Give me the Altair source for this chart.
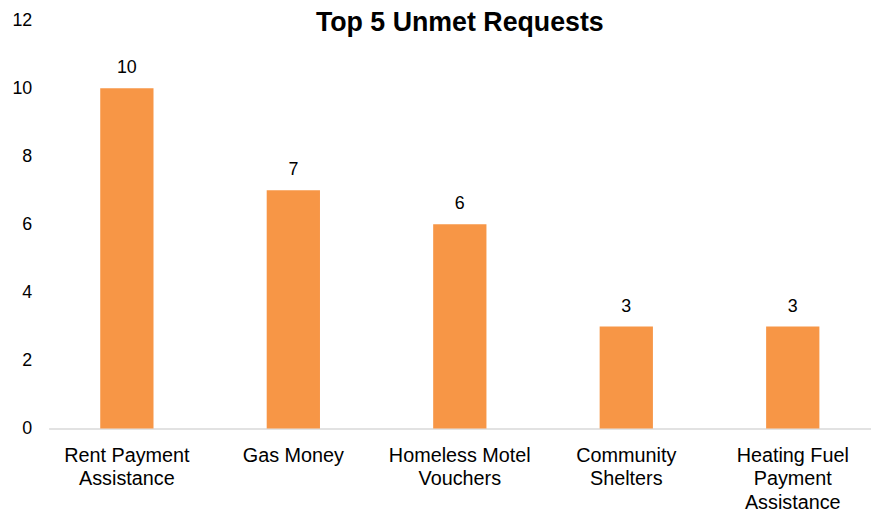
import altair as alt
import pandas as pd

categories = ["Rent Payment|Assistance", "Gas Money", "Homeless Motel|Vouchers",
              "Community|Shelters", "Heating Fuel|Payment|Assistance"]
values = [10, 7, 6, 3, 3]

df = pd.DataFrame({"cat": categories, "val": values})
FONT = "Liberation Sans, Arial, sans-serif"

base = alt.Chart(df).encode(
    x=alt.X("cat:N", sort=None, title=None,
            scale=alt.Scale(paddingInner=0.68, paddingOuter=0.31),
            axis=alt.Axis(labelAngle=0, labelExpr="split(datum.value, '|')",
                          labelFont=FONT, labelFontSize=20, labelColor="#000000",
                          labelLineHeight=24, labelPadding=17, ticks=False,
                          domainColor="#D9D9D9", domainWidth=1.5, labelBaseline="top")),
    y=alt.Y("val:Q", title=None,
            scale=alt.Scale(domain=[0, 12], nice=False),
            axis=alt.Axis(values=[0, 2, 4, 6, 8, 10, 12], grid=False, domain=False, ticks=False,
                          labelFont=FONT, labelFontSize=18, labelColor="#000000",
                          labelPadding=17)),
)

bars = base.mark_bar(color="#F79646")
labels = base.mark_text(dy=-11, baseline="bottom", font=FONT, fontSize=18, color="#000000").encode(
    text="val:Q")

chart = (bars + labels).properties(
    width=830, height=412,
    autosize=alt.AutoSizeParams(type="none"),
    padding={"left": 41, "top": 10, "right": 0, "bottom": 82},
    title=alt.TitleParams("Top 5 Unmet Requests", font=FONT, fontSize=27, fontWeight="bold",
                          color="#000000", anchor="middle", offset=-26),
).configure_view(stroke=None)

chart.save("out.html", embed_options={"renderer": "svg", "actions": False})
